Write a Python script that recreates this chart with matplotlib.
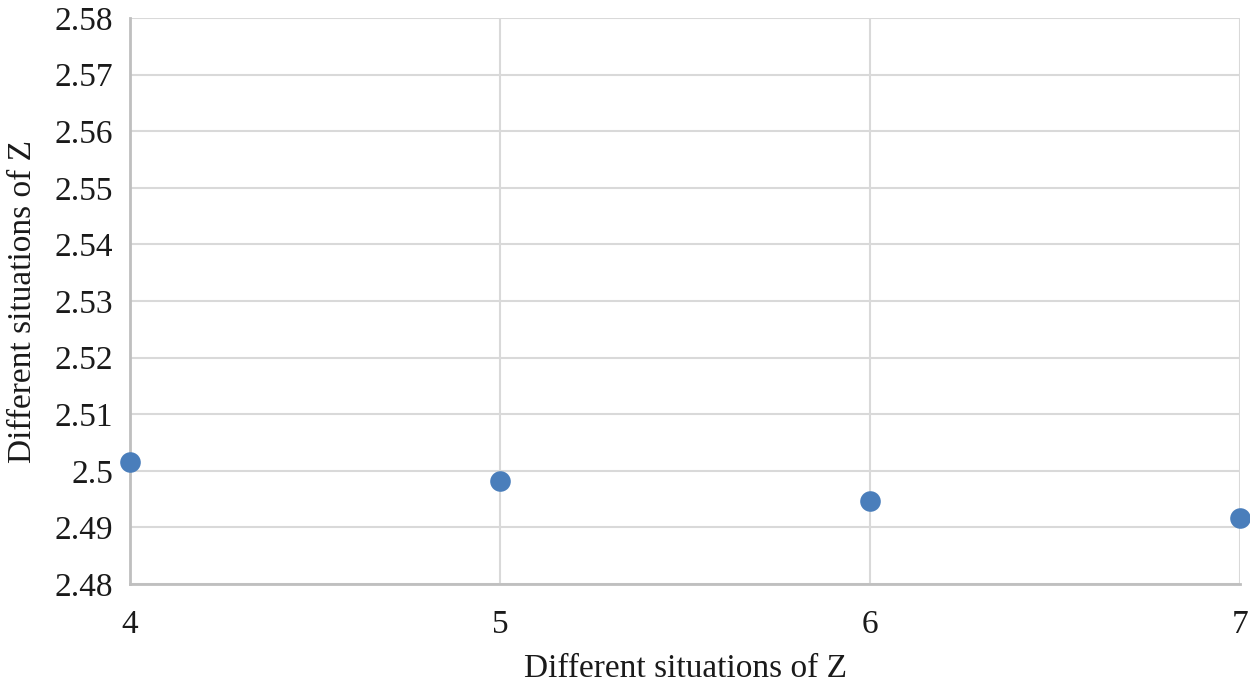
import matplotlib
matplotlib.use('Agg')
import matplotlib.pyplot as plt
from matplotlib.ticker import FuncFormatter, MultipleLocator

z_values = [4, 5, 6, 7]
results = [2.5016, 2.4982, 2.4947, 2.4917]

plt.rcParams['font.family'] = ['Liberation Serif', 'DejaVu Serif']

fig = plt.figure(figsize=(12.5, 6.88), dpi=100)
ax = fig.add_axes([0.104, 0.151, 0.888, 0.823])

ax.scatter(z_values, results, s=220, color='#4a7ebb', zorder=3, clip_on=False, linewidths=0)

ax.set_xlim(4, 7)
ax.set_ylim(2.48, 2.58)
ax.xaxis.set_major_locator(MultipleLocator(1))
ax.yaxis.set_major_locator(MultipleLocator(0.01))
ax.yaxis.set_major_formatter(FuncFormatter(lambda v, p: f'{round(v, 2):g}'))

ax.grid(True, color='#d9d9d9', linewidth=1.5, zorder=0)
ax.set_axisbelow(True)
for side in ['top', 'right']:
    ax.spines[side].set_visible(False)
for side in ['left', 'bottom']:
    ax.spines[side].set_color('#bfbfbf')
    ax.spines[side].set_linewidth(2)

ax.tick_params(axis='both', length=0, labelsize=24, colors='#1a1a1a')
ax.tick_params(axis='x', pad=18)
ax.tick_params(axis='y', pad=12)

ax.set_xlabel('Different situations of Z', fontsize=24, color='#1a1a1a', labelpad=10)
ax.set_ylabel('Different situations of Z', fontsize=24, color='#1a1a1a', labelpad=12)

fig.savefig('out.png', dpi=100)
